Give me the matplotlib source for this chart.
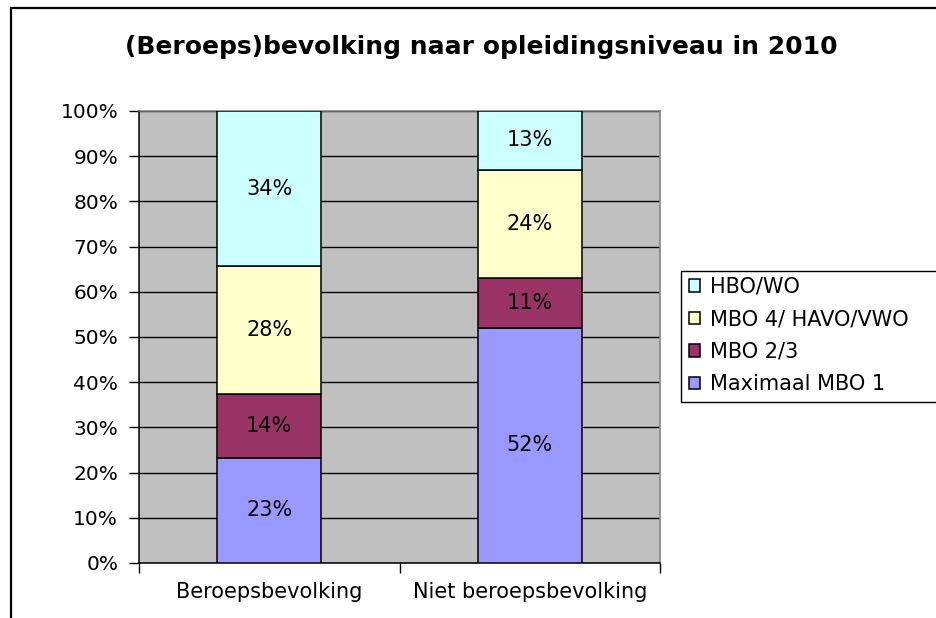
import matplotlib
matplotlib.use("Agg")
import matplotlib.pyplot as plt
import numpy as np
from matplotlib.patches import Rectangle

categories = ["Beroepsbevolking", "Niet beroepsbevolking"]
series = ["Maximaal MBO 1", "MBO 2/3", "MBO 4/ HAVO/VWO", "HBO/WO"]
max_mbo1 = [23, 52]
mbo23 = [14, 11]
mbo4_havo_vwo = [28, 24]
hbo_wo = [34, 13]
colors = ["#9999FF", "#993366", "#FFFFCC", "#CCFFFF"]
yticks = [0, 10, 20, 30, 40, 50, 60, 70, 80, 90, 100]

plt.rcParams["font.family"] = ["DejaVu Sans"]

W, H = 936, 618
fig = plt.figure(figsize=(W / 100, H / 100), dpi=100)
fig.patch.set_facecolor("white")

# rand van het grafiekobject (rechts en onder afgesneden)
fig.patches.append(Rectangle((11 / W, -0.1), 1.2, 1 - 8 / H + 0.1, transform=fig.transFigure,
                             fill=False, edgecolor="black", linewidth=1.6, zorder=0))
# kader van de legenda (loopt rechts buiten beeld)
fig.patches.append(Rectangle((681 / W, 1 - 402 / H), 0.5, (402 - 271) / H, transform=fig.transFigure,
                             fill=False, edgecolor="black", linewidth=1.0, zorder=0))

ax = fig.add_axes([139 / W, 1 - 563 / H, (660 - 139) / W, (563 - 111) / H])
ax.set_facecolor("#C0C0C0")

data = np.array([max_mbo1, mbo23, mbo4_havo_vwo, hbo_wo], dtype=float)
totals = data.sum(axis=0)
shares = data / totals * 100  # 100% gestapeld, zoals in Excel

x = np.arange(len(categories))
bottom = np.zeros(len(categories))
handles = []
for i, name in enumerate(series):
    bars = ax.bar(x, shares[i], 0.4, bottom=bottom, color=colors[i], edgecolor="black",
                  linewidth=1.1, label=name, zorder=3)
    handles.append(bars)
    for j in range(len(categories)):
        ax.text(x[j], bottom[j] + shares[i][j] / 2, f"{data[i][j]:.0f}%", ha="center", va="center",
                fontsize=15, color="black", zorder=4)
    bottom += shares[i]

ax.set_xlim(-0.5, 1.5)
ax.set_ylim(0, 100)
ax.set_yticks(yticks)
ax.set_yticklabels([f"{v}%" for v in yticks])
ax.yaxis.grid(True, color="black", linewidth=1.0, zorder=1)
ax.set_axisbelow(True)

ax.set_xticks(x)
ax.set_xticklabels(categories)
ax.set_xticks([-0.5, 0.5, 1.5], minor=True)
ax.tick_params(axis="x", which="major", length=0, pad=14, labelsize=15)
ax.tick_params(axis="x", which="minor", length=7, width=1, direction="out")
ax.tick_params(axis="y", length=7, width=1, direction="out", pad=8, labelsize=14.5)

for s in ["left", "bottom"]:
    ax.spines[s].set_color("black")
    ax.spines[s].set_linewidth(1.1)
for s in ["top", "right"]:
    ax.spines[s].set_color("#808080")
    ax.spines[s].set_linewidth(1.1)

fig.text(481 / W, 1 - 47 / H, "(Beroeps)bevolking naar opleidingsniveau in 2010", ha="center",
         va="center", fontsize=18, fontweight="bold")

leg = fig.legend(handles[::-1], series[::-1], loc="upper left", bbox_to_anchor=(689 / W, 1 - 277 / H),
                 frameon=False, fontsize=15, handlelength=0.55, handleheight=0.55, handletextpad=0.45,
                 borderaxespad=0, borderpad=0, labelspacing=0.6)

fig.savefig("out.png", dpi=100)
